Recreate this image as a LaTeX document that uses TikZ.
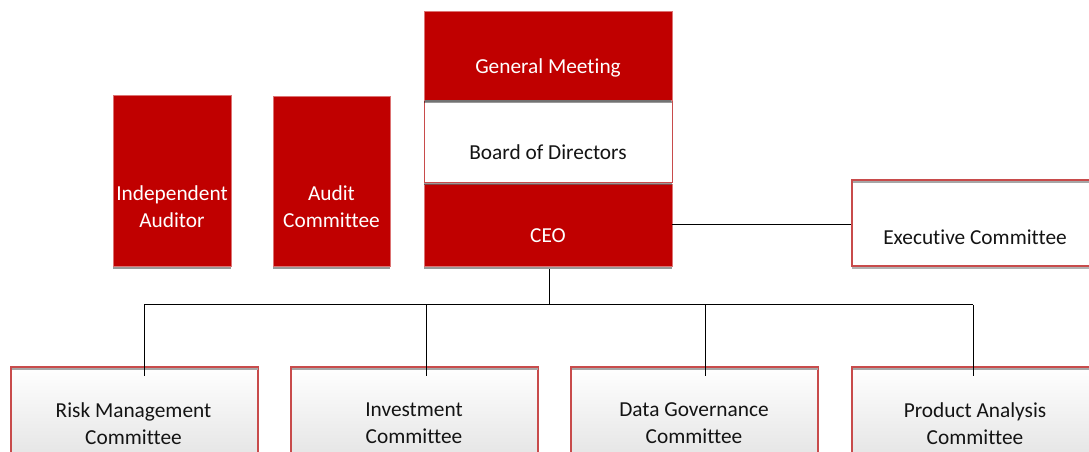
\documentclass[tikz,border=0pt]{standalone}
\usepackage{fontspec}
\setmainfont{Carlito}[Ligatures=NoCommon]
\usetikzlibrary{shadows,calc}
\definecolor{dred}{RGB}{192,0,0}
\definecolor{bord}{RGB}{200,75,75}
\definecolor{shad}{RGB}{166,166,166}
\definecolor{txtk}{RGB}{20,20,20}
\begin{document}
\begin{tikzpicture}[x=0.75pt,y=-0.75pt,
  redbox/.style={fill=dred, draw=dred!55!white, line width=0.4pt, inner sep=0pt,
    drop shadow={shadow xshift=0pt, shadow yshift=-2.4pt, fill=black, opacity=0.4}},
  whitebox/.style={fill=white, draw=bord, line width=0.6pt, inner sep=0pt,
    drop shadow={shadow xshift=0pt, shadow yshift=-2.4pt, fill=black, opacity=0.4}},
  combox/.style={top color=white, bottom color=black!10, draw=bord, line width=1.5pt, inner sep=0pt,
    minimum width=185.25pt, minimum height=64.5pt,
    drop shadow={shadow xshift=0pt, shadow yshift=-2pt, fill=black, opacity=0.3}},
  lbl/.style={font=\fontsize{16}{20.25}\selectfont, align=center, inner sep=0pt},
  wlbl/.style={lbl, text=white},
  klbl/.style={lbl, text=txtk},
  conn/.style={draw=black, line width=0.75pt}
]
\clip (0,0) rectangle (1089,452);
\fill[white] (0,0) rectangle (1089,452);

% top stack (drawn bottom-up so shadows overlap correctly)
\node[redbox, minimum width=186pt, minimum height=61.5pt] (ceo) at (548,225) {};
\node[whitebox, minimum width=186pt, minimum height=61.5pt] (bod) at (548,141) {};
\node[redbox, minimum width=186pt, minimum height=66.75pt] (gm) at (548,55.5) {};
\draw[black!55, line width=1.6pt] ($(bod.north west)+(1,1.5)$) -- ($(bod.north east)+(-1,1.5)$);

\node[redbox, minimum width=88.5pt, minimum height=128.25pt] (ia) at (172,180.5) {};
\node[redbox, minimum width=87.75pt, minimum height=127.5pt] (ac) at (331.5,181) {};

\node[combox, top color=white, bottom color=white] (exec) at (975.5,223) {};
\draw[shad, line width=1pt] ($(exec.north west)+(1.5,3)$) -- ($(exec.north east)+(-1.5,3)$);

\node[combox, minimum height=66pt] (rm) at (134.5,411) {};
\node[combox, minimum height=66pt] (inv) at (414.5,411) {};
\node[combox, minimum height=66pt] (dg) at (694.5,411) {};
\node[combox, minimum height=66pt] (pa) at (975.5,411) {};
\foreach \b in {rm,inv,dg,pa}{
  \draw[shad, line width=1pt] ($(\b.north west)+(1.5,3)$) -- ($(\b.north east)+(-1.5,3)$);
}

% labels
\node[wlbl] (gmt) at (548,68) {General Meeting};
\node[klbl] (bodt) at (548,152) {Board of Directors};
\node[wlbl] (ceot) at (548,236) {CEO};
\node[wlbl] (iat) at (172,206.5) {Independent\\Auditor};
\node[wlbl] (act) at (331.5,206.5) {Audit\\Committee};
\node[klbl] (exect) at (975,237) {Executive Committee};
\node[klbl] (rmt) at (133.5,423.5) {Risk Management\\Committee};
\node[klbl] (invt) at (414,423.5) {Investment\\Committee};
\node[klbl] (dgt) at (694,423.5) {Data Governance\\Committee};
\node[klbl] (pat) at (975,423.5) {Product Analysis\\Committee};

% connectors
\draw[conn] (ceo.east) -- (exec.west |- ceo.east);
\coordinate (bus) at (549,305);
\coordinate (d1) at (144,305);
\coordinate (d2) at (426,305);
\coordinate (d3) at (705,305);
\coordinate (d4) at (973,305);
\draw[conn] ($(ceo.south)+(1,3)$) -- (bus);
\draw[conn] (d1) -- (d4);
\draw[conn] (d1) -- ($(d1 |- rm.north)+(0,10)$);
\draw[conn] (d2) -- ($(d2 |- inv.north)+(0,10)$);
\draw[conn] (d3) -- ($(d3 |- dg.north)+(0,10)$);
\draw[conn] (d4) -- ($(d4 |- pa.north)+(0,10)$);
\end{tikzpicture}
\end{document}
